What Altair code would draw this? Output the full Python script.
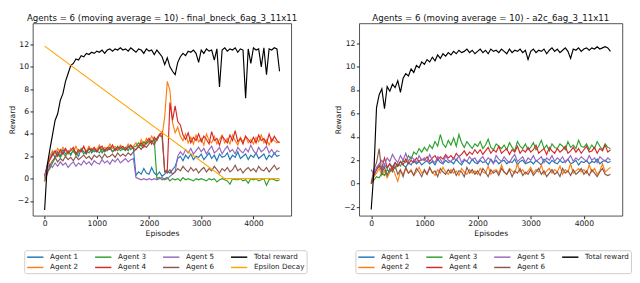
import altair as alt
import pandas as pd

# Episode grid (one reading every 50 episodes)
EPISODES = [i * 50 for i in range(91)]

# ---------------- Left panel: final_bneck_6ag_3_11x11 ----------------
L_AGENT1 = [0.2, 1.2, 1.8, 2.3, 1.9, 2.4, 2.0, 2.6, 2.2, 2.5,
            2.1, 2.6, 2.3, 2.0, 2.7, 2.4, 2.2, 2.8, 2.3, 2.6,
            2.4, 2.9, 2.3, 2.6, 2.5, 2.8, 2.4, 2.7, 2.5, 2.9,
            2.6, 2.8, 2.5, 3.0, 2.7, 0.3, 0.6, 0.4, 0.9, 0.5,
            0.4, 1.0, 0.5, 0.3, 0.6, 0.2, 0.4, 0.7, 0.5, 0.8,
            1.1, 1.8, 2.0, 1.6, 2.1, 1.8, 2.2, 1.7, 2.0, 1.9,
            2.2, 1.7, 2.0, 2.3, 1.8, 2.1, 1.6, 2.2, 1.9, 2.0,
            2.3, 1.7, 2.1, 1.9, 2.4, 1.8, 2.0, 2.2, 1.7, 2.1,
            1.9, 2.3, 1.8, 2.0, 2.2, 1.7, 2.1, 1.9, 2.3, 2.0,
            2.1]
L_AGENT2 = [-0.3, 1.0, 2.0, 2.5, 2.2, 2.7, 2.3, 2.8, 2.5, 2.2,
            2.7, 2.4, 2.9, 2.3, 2.6, 2.8, 2.4, 2.9, 2.5, 2.7,
            2.6, 3.0, 2.5, 2.8, 2.6, 3.1, 2.7, 2.9, 2.6, 3.0,
            2.8, 2.6, 3.1, 2.7, 2.9, 3.2, 2.8, 3.5, 3.0, 3.6,
            3.2, 3.8, 3.4, 3.6, 4.0, 3.8, 5.5, 8.7, 7.9, 5.0,
            4.1, 4.6, 3.8, 3.4, 4.0, 3.2, 3.7, 3.1, 3.9, 3.3,
            3.6, 3.0, 4.0, 3.4, 3.2, 3.8, 3.1, 3.5, 3.9, 3.2,
            3.6, 3.1, 3.9, 3.4, 3.0, 3.7, 3.3, 3.8, 3.2, 3.5,
            3.1, 3.7, 3.3, 3.9, 3.2, 3.5, 3.0, 3.6, 3.4, 3.2,
            3.3]
L_AGENT3 = [0.0, 0.6, 0.9, 1.4, 1.8, 2.2, 1.9, 2.3, 2.0, 2.4,
            2.2, 2.5, 2.1, 2.4, 2.6, 2.2, 2.5, 2.3, 2.7, 2.4,
            2.5, 2.3, 2.7, 2.4, 2.6, 2.8, 2.4, 2.6, 2.9, 2.5,
            2.7, 2.5, 2.9, 2.6, 2.8, 2.9, 3.2, 2.9, 3.3, 3.1,
            3.4, 3.2, 3.5, 0.0, 0.1, -0.1, 0.0, 0.1, -0.2, 0.0,
            -0.1, 0.0, -0.2, 0.1, -0.1, 0.0, -0.1, -0.2, 0.0, -0.1,
            0.0, -0.1, -0.2, 0.0, -0.1, 0.0, -0.3, -0.1, 0.0, -0.1,
            -0.2, -0.5, 0.0, -0.1, -0.1, 0.0, -0.2, -0.1, -0.4, 0.0,
            -0.1, 0.0, -0.2, -0.1, 0.0, -0.6, -0.1, 0.0, -0.1, -0.2,
            -0.1]
L_AGENT4 = [0.3, 1.1, 1.7, 2.1, 2.5, 2.0, 2.6, 2.2, 2.7, 2.3,
            2.5, 2.8, 2.2, 2.6, 2.4, 2.9, 2.3, 2.7, 2.5, 2.8,
            2.4, 2.7, 2.9, 2.5, 2.8, 2.6, 3.0, 2.5, 2.8, 2.7,
            2.9, 2.6, 2.8, 3.0, 2.7, 2.6, 2.9, 3.2, 2.8, 3.3,
            3.6, 3.1, 3.7, 3.4, 3.9, 4.2, 0.6, 0.8, 6.8, 5.2,
            6.5, 5.1, 4.8, 3.9, 3.5, 4.1, 3.2, 3.7, 3.4, 4.0,
            3.3, 3.8, 3.5, 3.1, 4.2, 3.4, 3.6, 3.0, 3.8, 3.5,
            3.2, 3.9, 3.4, 4.3, 3.3, 3.6, 3.1, 3.8, 3.5, 3.2,
            3.7, 3.2, 3.9, 3.4, 3.6, 3.1, 4.0, 3.3, 3.8, 3.4,
            3.2]
L_AGENT5 = [0.1, 0.9, 1.3, 1.0, 1.4, 1.1, 1.5, 1.2, 1.4, 1.0,
            1.3, 1.5, 1.1, 1.4, 1.2, 1.6, 1.3, 1.5, 1.2, 1.6,
            1.4, 1.3, 1.7, 1.4, 1.6, 1.3, 1.7, 1.5, 1.8, 1.4,
            1.6, 1.8, 1.5, 1.7, 1.8, 0.1, 0.0, -0.1, 0.0, -0.1,
            0.0, -0.1, 0.0, -0.1, 0.0, 0.1, -0.1, 0.0, 0.2, 0.4,
            0.6, 2.0, 2.4, 2.1, 2.6, 2.3, 2.7, 2.2, 2.5, 2.8,
            2.4, 2.7, 2.2, 2.6, 2.9, 2.3, 2.5, 2.8, 2.2, 2.6,
            2.9, 2.4, 2.6, 2.2, 2.8, 2.5, 2.3, 2.7, 2.4, 3.0,
            2.5, 2.2, 2.8, 2.4, 2.6, 2.9, 2.3, 2.6, 2.2, 2.5,
            2.4]
L_AGENT6 = [-0.2, 0.4, 1.2, 1.6, 1.9, 1.5, 1.8, 1.6, 2.0, 1.7,
            1.9, 1.6, 2.0, 1.7, 1.9, 2.1, 1.8, 2.0, 1.7, 2.1,
            1.9, 2.1, 1.8, 2.2, 1.9, 2.0, 2.2, 1.9, 2.3, 2.0,
            2.2, 2.0, 2.3, 2.1, 2.4, 2.6, 2.9, 2.6, 3.0, 2.8,
            3.1, 3.4, 3.0, 3.6, 3.9, 3.7, 0.7, 0.5, 0.8, 0.4,
            0.6, 0.9, 0.7, 1.1, 0.8, 0.6, 1.0, 0.7, 0.9, 0.5,
            0.8, 1.0, 0.6, 0.9, 0.7, 1.1, 0.8, 0.5, 0.9, 0.7,
            1.0, 0.6, 0.8, 1.2, 0.7, 0.9, 0.5, 0.8, 1.0, 0.7,
            0.9, 0.6, 1.1, 0.8, 0.7, 1.0, 0.6, 0.9, 1.2, 0.8,
            1.0]
L_TOTAL = [-2.8, 1.2, 2.6, 3.9, 5.2, 5.8, 7.0, 7.6, 8.7, 9.4,
           10.1, 10.3, 10.7, 10.6, 11.0, 10.9, 11.2, 11.1, 11.3, 11.2,
           11.4, 11.3, 11.5, 11.2, 11.5, 11.6, 11.4, 11.6, 11.5, 11.7,
           11.5, 11.6, 11.4, 11.7, 11.5, 11.3, 11.6, 11.5, 11.2, 11.6,
           11.4, 11.5, 11.1, 11.5, 11.2, 10.9, 10.2, 10.8, 10.0, 9.6,
           9.3, 10.4, 10.9, 11.2, 11.0, 11.4, 11.3, 11.5, 11.2, 10.4,
           11.5, 11.2, 11.6, 11.4, 11.5, 10.6, 11.6, 8.2, 11.5, 11.7,
           11.4, 11.6, 11.5, 11.7, 11.3, 11.6, 11.5, 7.2, 11.6, 10.3,
           11.7, 11.5, 11.6, 10.0, 11.7, 9.3, 11.6, 11.5, 11.7, 11.6,
           9.6]
EPS_X = [0, 3450, 4500]
EPS_Y = [11.85, 0.0, 0.0]

# ---------------- Right panel: a2c_6ag_3_11x11 ----------------
R_AGENT1 = [0.0, 0.8, 1.2, 1.5, 1.1, 1.6, 1.3, 1.7, 1.4, 1.8,
            1.5, 1.9, 1.6, 1.4, 1.8, 1.6, 2.0, 1.7, 1.9, 1.6,
            1.8, 2.0, 1.7, 1.9, 1.6, 2.1, 1.8, 1.7, 2.0, 1.8,
            1.9, 1.7, 2.1, 1.8, 1.6, 2.0, 1.9, 1.7, 2.1, 1.8,
            1.7, 2.0, 1.8, 1.9, 1.6, 2.1, 1.8, 2.0, 1.7, 1.9,
            2.0, 1.7, 1.9, 1.8, 2.1, 1.6, 1.9, 2.0, 1.7, 1.8,
            1.9, 1.7, 2.0, 1.8, 1.6, 2.1, 1.9, 1.7, 2.0, 1.8,
            1.7, 2.0, 1.8, 1.9, 2.1, 1.7, 1.8, 2.0, 1.6, 1.9,
            1.8, 2.0, 1.7, 1.9, 1.8, 2.1, 1.7, 1.9, 2.0, 1.8,
            1.9]
R_AGENT2 = [0.1, 0.6, 0.9, 1.3, 0.7, 1.1, 0.5, 1.0, 1.4, 0.8,
            0.2, 1.1, 0.8, 1.3, 0.9, 1.2, 0.7, 1.0, 1.4, 0.9,
            1.1, 0.8, 1.3, 1.0, 0.7, 1.2, 0.9, 1.4, 1.0, 0.8,
            1.2, 0.9, 1.1, 0.7, 1.3, 1.0, 0.8, 1.2, 0.9, 1.1,
            0.8, 1.3, 1.0, 0.9, 1.5, 0.8, 1.1, 1.2, 0.9, 1.6,
            1.0, 0.8, 1.3, 1.1, 0.9, 1.7, 1.0, 1.2, 0.8, 1.1,
            1.4, 0.9, 1.2, 1.0, 1.6, 0.8, 1.1, 1.3, 0.9, 1.2,
            1.0, 1.5, 0.8, 1.2, 1.0, 1.7, 0.9, 1.1, 1.3, 1.0,
            1.2, 0.9, 1.6, 1.0, 1.3, 0.8, 1.1, 1.7, 1.0, 1.2,
            1.4]
R_AGENT3 = [0.0, 0.3, 0.6, 0.5, 0.9, 0.7, 1.2, 1.0, 1.5, 1.3,
            1.7, 1.5, 2.0, 1.8, 2.4, 2.1, 2.7, 2.5, 3.0, 2.7,
            3.1, 2.8, 3.3, 3.0, 3.6, 3.2, 4.2, 3.4, 3.1, 3.7,
            3.3, 3.9, 3.2, 4.2, 3.5, 3.1, 3.6, 3.3, 3.0, 3.4,
            3.2, 3.6, 3.0, 3.3, 3.8, 3.1, 2.9, 3.4, 3.2, 3.0,
            3.3, 2.9, 3.5, 3.1, 2.8, 3.6, 3.2, 3.0, 3.4, 2.9,
            3.1, 3.5, 2.9, 3.2, 3.7, 3.0, 3.3, 2.8, 3.4, 3.1,
            3.0, 3.4, 3.2, 2.9, 3.6, 3.1, 3.3, 3.0, 3.7, 3.2,
            3.1, 3.4, 2.9, 3.3, 3.0, 3.6, 3.2, 2.9, 3.4, 3.1,
            3.0]
R_AGENT4 = [0.0, 0.7, 1.2, 1.6, 1.3, 2.2, 1.4, 1.7, 1.2, 1.8,
            1.5, 1.9, 1.6, 2.1, 1.7, 2.0, 1.8, 2.2, 1.9, 2.1,
            2.0, 2.3, 1.9, 2.2, 2.4, 2.0, 2.3, 2.1, 2.5, 2.2,
            2.4, 2.1, 2.6, 2.3, 2.5, 2.8, 2.4, 2.7, 2.5, 2.9,
            2.6, 2.9, 2.5, 2.8, 3.1, 2.6, 2.9, 2.7, 3.2, 2.6,
            2.8, 3.0, 2.5, 2.9, 2.7, 3.2, 2.6, 2.9, 2.7, 3.1,
            2.7, 2.9, 3.3, 2.6, 2.8, 3.0, 2.5, 3.1, 2.8, 2.6,
            3.0, 2.7, 2.9, 3.2, 2.6, 2.8, 3.1, 2.7, 3.0, 2.6,
            2.9, 3.2, 2.7, 2.8, 3.1, 2.6, 3.0, 2.8, 3.3, 2.7,
            2.9]
R_AGENT5 = [1.2, 0.8, 1.4, 1.7, 2.0, 1.6, 2.2, 1.9, 2.5, 2.1,
            1.8, 2.4, 2.0, 2.6, 1.9, 2.3, 2.1, 1.8, 2.4, 2.0,
            2.2, 1.9, 2.5, 2.0, 1.8, 2.3, 2.1, 1.7, 2.4, 2.0,
            1.9, 2.2, 2.0, 2.4, 1.8, 2.1, 1.9, 2.3, 2.0, 2.2,
            1.8, 2.1, 2.3, 1.9, 2.2, 2.0, 1.7, 2.4, 2.1, 1.9,
            2.3, 2.0, 1.8, 2.2, 2.5, 1.9, 2.1, 2.3, 1.8, 2.2,
            2.0, 2.4, 1.9, 2.1, 2.3, 1.8, 2.2, 2.0, 2.4, 1.9,
            2.2, 2.0, 2.3, 1.8, 2.1, 2.4, 1.9, 2.2, 2.0, 2.3,
            2.1, 1.9, 2.4, 2.0, 2.2, 1.8, 2.3, 2.1, 1.9, 2.2,
            2.0]
R_AGENT6 = [0.1, 1.2, 1.8, 3.0, 0.9, 1.4, 0.7, 1.3, 1.0, 1.5,
            0.8, 1.2, 0.6, 1.4, 0.9, 1.1, 0.7, 1.3, 1.0, 0.6,
            1.2, 0.8, 1.4, 0.9, 1.1, 0.6, 1.3, 1.0, 0.8, 1.2,
            0.9, 1.3, 0.7, 1.1, 1.0, 0.6, 1.4, 0.9, 1.2, 0.8,
            1.1, 0.7, 1.3, 1.0, 0.6, 1.2, 0.9, 1.1, 0.7, 1.3,
            1.0, 0.8, 1.2, 0.6, 1.1, 0.9, 1.3, 0.7, 1.0, 0.8,
            1.2, 0.7, 1.0, 1.3, 0.8, 1.1, 0.6, 0.9, 1.2, 0.8,
            1.0, 0.6, 1.3, 0.9, 1.1, 0.7, 1.2, 0.8, 1.0, 1.3,
            0.8, 1.1, 0.7, 1.2, 0.9, 0.6, 1.0, 1.3, 0.8, 0.7,
            0.8]
R_TOTAL = [-2.2, 1.0, 6.5, 7.6, 8.1, 6.4, 8.3, 7.9, 8.5, 8.2,
           8.8, 7.8, 9.0, 9.4, 9.2, 9.8, 9.5, 10.1, 9.9, 10.4,
           10.2, 10.6, 10.4, 10.8, 10.5, 11.0, 10.7, 11.1, 10.9, 11.2,
           11.0, 11.3, 11.1, 11.4, 11.2, 11.3, 11.5, 11.2, 11.4, 11.1,
           11.3, 11.5, 11.2, 11.4, 11.1, 11.5, 11.3, 11.4, 11.2, 11.5,
           11.3, 11.1, 11.5, 11.2, 11.4, 11.3, 11.5, 11.2, 11.4, 10.6,
           11.3, 11.5, 11.2, 11.4, 11.3, 11.5, 11.1, 11.4, 11.6, 11.3,
           11.5, 11.2, 11.4, 11.6, 11.3, 10.7, 11.5, 11.4, 11.6, 11.3,
           11.5, 11.6, 11.4, 11.6, 11.5, 11.7, 11.5, 11.6, 11.7, 11.6,
           11.3]

AGENTS = ["Agent 1", "Agent 2", "Agent 3", "Agent 4", "Agent 5", "Agent 6"]
COLORS = {
    "Agent 1": "#1f77b4", "Agent 2": "#ff7f0e", "Agent 3": "#2ca02c",
    "Agent 4": "#d62728", "Agent 5": "#9467bd", "Agent 6": "#8c564b",
    "Total reward": "#000000", "Epsilon Decay": "#ffa500",
}
FONT = "DejaVu Sans"
TEXT = "#222222"
PLOT_H = 201


def panel(title, agent_vals, total_vals, ydom, width, legend_x, with_eps):
    frames = [pd.DataFrame({"ep": EPISODES, "r": v, "s": n}) for n, v in zip(AGENTS, agent_vals)]
    frames.append(pd.DataFrame({"ep": EPISODES, "r": total_vals, "s": "Total reward"}))
    order = AGENTS + ["Total reward"]
    if with_eps:
        frames.append(pd.DataFrame({"ep": EPS_X, "r": EPS_Y, "s": "Epsilon Decay"}))
        order = order + ["Epsilon Decay"]
    df = pd.concat(frames, ignore_index=True)
    scale = alt.Scale(domain=order, range=[COLORS[o] for o in order])
    legend = alt.Legend(
        orient="none", legendX=legend_x, legendY=237, columns=4, title=None,
        symbolType="M-1,0L3.25,0", symbolSize=64, symbolStrokeWidth=1.5,
        labelFont=FONT, labelFontSize=7.5, labelColor=TEXT, labelOffset=15,
        padding=2, strokeColor="#cccccc", fillColor="white", cornerRadius=2,
        rowPadding=2, columnPadding=14,
    )
    xenc = alt.X("ep:Q", scale=alt.Scale(domain=[-225, 4725], nice=False, zero=False),
                 axis=alt.Axis(values=[0, 1000, 2000, 3000, 4000], format="d", title="Episodes"))
    yenc = alt.Y("r:Q", scale=alt.Scale(domain=ydom, nice=False, zero=False),
                 axis=alt.Axis(values=[-2, 0, 2, 4, 6, 8, 10, 12], format="d", title="Reward"))
    base = alt.Chart(df)
    layers = [
        base.transform_filter(alt.datum.s == name)
        .mark_line(strokeWidth=1.2, clip=True)
        .encode(x=xenc, y=yenc, color=alt.Color("s:N", scale=scale, legend=legend))
        for name in order
    ]
    return alt.layer(*layers).properties(
        width=width, height=PLOT_H,
        title=alt.Title(title, font=FONT, fontSize=9, fontWeight="normal",
                        color="#111111", offset=0, anchor="middle"),
    )


left = panel("Agents = 6 (moving average = 10) - final_bneck_6ag_3_11x11",
             [L_AGENT1, L_AGENT2, L_AGENT3, L_AGENT4, L_AGENT5, L_AGENT6],
             L_TOTAL, [-3.32, 13.88], 270, -9, True)
right = panel("Agents = 6 (moving average = 10) - a2c_6ag_3_11x11",
              [R_AGENT1, R_AGENT2, R_AGENT3, R_AGENT4, R_AGENT5, R_AGENT6],
              R_TOTAL, [-2.74, 13.69], 275, -4, False)

chart = (
    alt.hconcat(left, right, spacing=28)
    .resolve_scale(color="independent")
    .resolve_legend(color="independent")
    .properties(padding=0)
    .configure_view(stroke="#222222", strokeWidth=0.8)
    .configure_axis(labelFont=FONT, titleFont=FONT, labelFontSize=8, titleFontSize=8,
                    titleFontWeight="normal", labelColor=TEXT, titleColor=TEXT,
                    tickColor=TEXT, domain=False, grid=False, tickSize=3, labelPadding=1.5)
    .configure_axisY(titlePadding=1)
    .configure_axisX(titlePadding=2)
)

chart.save("out.html", embed_options={"renderer": "svg", "actions": False})
